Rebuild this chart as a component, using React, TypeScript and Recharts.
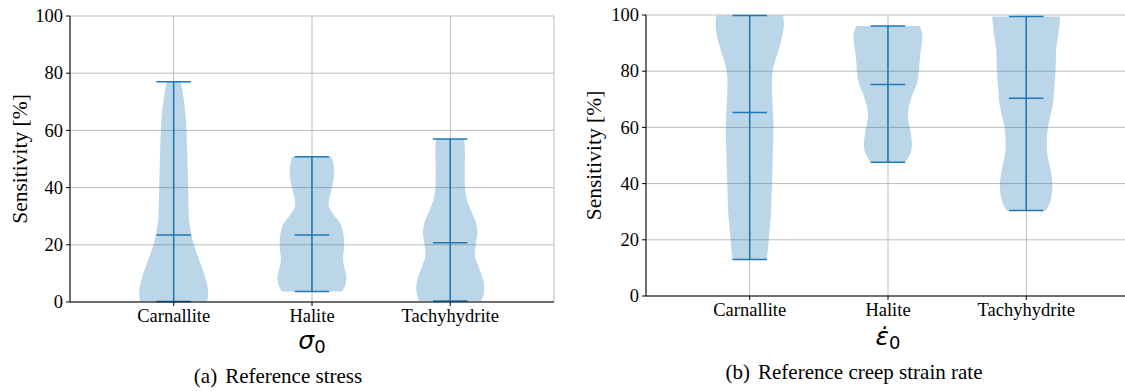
import { ComposedChart, Bar, XAxis, YAxis, CartesianGrid } from 'recharts'

const categories = ['Carnallite', 'Halite', 'Tachyhydrite']
const yTicks = [0, 20, 40, 60, 80, 100]

// (a) reference stress
const stressMin = [0.2, 3.7, 0.35]
const stressMax = [77.0, 50.8, 57.0]
const stressMedian = [23.4, 23.4, 20.7]
// [value, relative half-width]
const carnalliteStress = [
  [0.2, 0.97], [3, 1.0], [6, 0.97], [10, 0.88], [14, 0.76], [18, 0.64], [22, 0.54], [26, 0.48],
  [30, 0.44], [40, 0.42], [50, 0.4], [60, 0.37], [66, 0.34], [70, 0.3], [74, 0.25], [77, 0.2],
]
const haliteStress = [
  [3.7, 0.88], [6, 0.97], [9, 1.0], [12, 0.94], [15, 0.9], [19, 0.93], [23, 0.92], [27, 0.84],
  [30, 0.66], [33, 0.5], [36, 0.5], [40, 0.58], [44, 0.64], [48, 0.63], [50.8, 0.57],
]
const tachyStress = [
  [0.35, 0.9], [3, 0.97], [6, 0.98], [9, 0.92], [13, 0.8], [16, 0.72], [20, 0.74], [24, 0.79],
  [28, 0.74], [32, 0.6], [36, 0.48], [40, 0.43], [46, 0.42], [52, 0.43], [57, 0.41],
]
const stressProfiles = [carnalliteStress, haliteStress, tachyStress]

// (b) reference creep strain rate
const rateMin = [13.0, 47.6, 30.4]
const rateMax = [99.8, 96.1, 99.5]
const rateMedian = [65.3, 75.3, 70.4]
const carnalliteRate = [
  [13, 0.5], [18, 0.54], [24, 0.58], [30, 0.62], [40, 0.65], [50, 0.67], [58, 0.69], [65, 0.68],
  [72, 0.65], [78, 0.65], [82, 0.7], [86, 0.8], [90, 0.9], [94, 0.97], [97, 0.99], [99.8, 0.97],
]
const haliteRate = [
  [47.6, 0.5], [49.5, 0.6], [52, 0.68], [55, 0.69], [58, 0.66], [62, 0.6], [65, 0.58], [68, 0.62],
  [72, 0.72], [76, 0.85], [80, 0.9], [84, 0.92], [88, 0.96], [92, 1.0], [94, 0.98], [96.1, 0.92],
]
const tachyRate = [
  [30.4, 0.57], [33, 0.68], [36, 0.74], [40, 0.76], [44, 0.72], [48, 0.65], [52, 0.6], [56, 0.6],
  [60, 0.63], [64, 0.7], [68, 0.77], [72, 0.8], [78, 0.84], [84, 0.86], [88, 0.87], [93, 0.93],
  [97, 0.97], [99.5, 0.98],
]
const rateProfiles = [carnalliteRate, haliteRate, tachyRate]

const BLUE = '#1f77b4'
const SERIF = 'Liberation Serif'

function buildRows(mins: number[], maxs: number[], medians: number[], profiles: number[][][]) {
  return categories.map((name, i) => ({
    name,
    range: [mins[i], maxs[i]],
    median: medians[i],
    profile: profiles[i],
  }))
}

// catmull-rom through the points -> cubic bezier segments
function smooth(pts: number[][]) {
  let d = ''
  for (let i = 0; i < pts.length - 1; i++) {
    const p0 = pts[i - 1] || pts[i]
    const p1 = pts[i]
    const p2 = pts[i + 1]
    const p3 = pts[i + 2] || p2
    const c1x = p1[0] + (p2[0] - p0[0]) / 6
    const c1y = p1[1] + (p2[1] - p0[1]) / 6
    const c2x = p2[0] - (p3[0] - p1[0]) / 6
    const c2y = p2[1] - (p3[1] - p1[1]) / 6
    d += ` C${c1x},${c1y} ${c2x},${c2y} ${p2[0]},${p2[1]}`
  }
  return d
}

function Violin(props: any) {
  const { x, y, width, height, payload } = props
  if (!payload) return null
  const [lo, hi] = payload.range
  const cx = x + width / 2
  const half = width / 2
  const cap = width / 4
  // linear y scale of the axis, recovered from the bar's [lo, hi] box
  const toY = (v: number) => y + ((hi - v) / (hi - lo)) * height
  const right = payload.profile.map(([v, w]: number[]) => [cx + w * half, toY(v)])
  const left = [...payload.profile].reverse().map(([v, w]: number[]) => [cx - w * half, toY(v)])
  const d =
    `M${right[0][0]},${right[0][1]}` + smooth(right) +
    ` L${left[0][0]},${left[0][1]}` + smooth(left) + ' Z'
  const ym = toY(payload.median)
  return (
    <g>
      <path d={d} fill={BLUE} fillOpacity={0.3} stroke="none" />
      <line x1={cx} x2={cx} y1={toY(hi)} y2={toY(lo)} stroke={BLUE} strokeWidth={1.5} />
      <line x1={cx - cap} x2={cx + cap} y1={toY(hi)} y2={toY(hi)} stroke={BLUE} strokeWidth={1.5} />
      <line x1={cx - cap} x2={cx + cap} y1={toY(lo)} y2={toY(lo)} stroke={BLUE} strokeWidth={1.5} />
      <line x1={cx - cap} x2={cx + cap} y1={ym} y2={ym} stroke={BLUE} strokeWidth={1.5} />
    </g>
  )
}

function XTick(p: any) {
  return (
    <text x={p.x} y={p.y} dy="0.71em" textAnchor="middle" fontFamily={SERIF} fontSize={18.5} fill="#000">
      {p.payload.value}
    </text>
  )
}

function YTick(p: any) {
  return (
    <text x={p.x} y={p.y} dy="0.34em" textAnchor="end" fontFamily={SERIF} fontSize={18.5} fill="#000">
      {p.payload.value}
    </text>
  )
}

function Panel({ rows, symbol, dot, caption, yLabelOffset, marginTop, marginRight, yWidth, xHeight, width, mathDy }: any) {
  const bottomLabel = (p: any) => {
    const vb = p.viewBox
    const mid = vb.x + vb.width / 2
    return (
      <g>
        <text x={mid} y={vb.y + mathDy} textAnchor="middle" fontFamily="DejaVu Sans" fontStyle="italic" fontSize={25} fill="#000">
          {symbol}
          {dot ? '\u0307' : ''}
          <tspan fontSize={18} dy={4} fontStyle="normal">0</tspan>
        </text>
        <text x={mid - 34} y={vb.y + mathDy + 34} textAnchor="middle" fontFamily={SERIF} fontSize={21} fill="#000">
          {caption[0]}
          <tspan dx={8}>{caption[1]}</tspan>
        </text>
      </g>
    )
  }
  const sideLabel = (p: any) => {
    const vb = p.viewBox
    const lx = vb.x + yLabelOffset
    const ly = vb.y + vb.height / 2
    return (
      <text
        x={lx}
        y={ly}
        dy="0.34em"
        transform={`rotate(-90, ${lx}, ${ly})`}
        textAnchor="middle"
        fontFamily={SERIF}
        fontSize={21.5}
        fill="#000"
      >
        Sensitivity [%]
      </text>
    )
  }
  return (
    <ComposedChart
      width={width}
      height={391}
      data={rows}
      margin={{ top: marginTop, right: marginRight, left: 0, bottom: 0 }}
      barCategoryGap="25%"
    >
      <CartesianGrid stroke="#bdbdbd" strokeWidth={1} />
      <XAxis
        dataKey="name"
        padding={{ left: 34.6, right: 34.6 }}
        height={xHeight}
        stroke="#000"
        tickSize={4}
        tickMargin={3}
        tick={<XTick />}
        interval={0}
        label={{ content: bottomLabel }}
      />
      <XAxis xAxisId="top" orientation="top" dataKey="name" height={0} stroke="#000" tick={false} tickLine={false} />
      <YAxis
        domain={[0, 100]}
        ticks={yTicks}
        interval={0}
        width={yWidth}
        stroke="#000"
        tickSize={4}
        tickMargin={3}
        tick={<YTick />}
        label={{ content: sideLabel }}
      />
      <YAxis yAxisId="right" orientation="right" domain={[0, 100]} width={0} stroke="#000" tick={false} tickLine={false} />
      <Bar dataKey="range" shape={Violin} isAnimationActive={false} />
    </ComposedChart>
  )
}

export default function App() {
  const stressRows = buildRows(stressMin, stressMax, stressMedian, stressProfiles)
  const rateRows = buildRows(rateMin, rateMax, rateMedian, rateProfiles)
  return (
    <div style={{ position: 'absolute', left: 0, top: 0, width: 1125, height: 391, overflow: 'hidden', background: '#fff' }}>
      <div style={{ position: 'absolute', left: 0, top: 0 }}>
        <Panel
          rows={stressRows}
          symbol={'\u03c3'}
          dot={false}
          caption={['(a)', 'Reference stress']}
          yLabelOffset={20}
          marginTop={16}
          marginRight={6}
          yWidth={70}
          xHeight={89}
          width={560}
          mathDy={47}
        />
      </div>
      <div style={{ position: 'absolute', left: 565, top: 0 }}>
        <Panel
          rows={rateRows}
          symbol={'\u03b5'}
          dot={true}
          caption={['(b)', 'Reference creep strain rate']}
          yLabelOffset={29}
          marginTop={15}
          marginRight={0}
          yWidth={81}
          xHeight={95}
          width={565}
          mathDy={49}
        />
      </div>
    </div>
  )
}
